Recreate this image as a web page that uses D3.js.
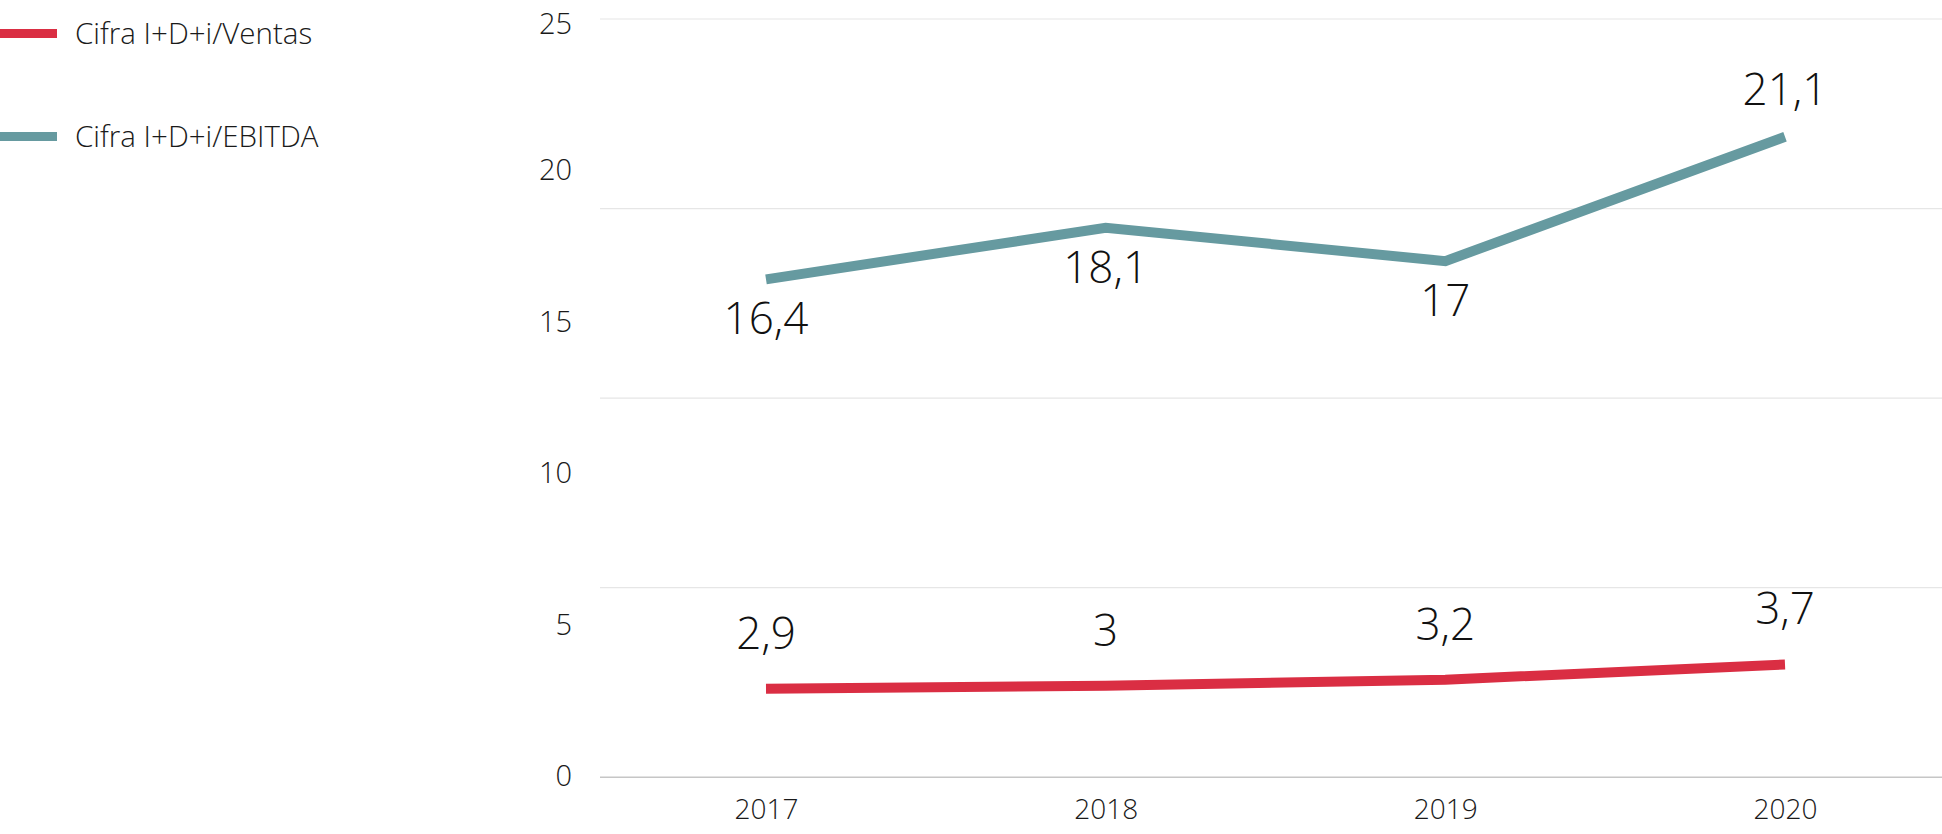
<!DOCTYPE html>
<html>
<head>
<meta charset="utf-8">
<script src="https://cdn.jsdelivr.net/npm/d3@7"></script>
<style>
  html, body { margin: 0; padding: 0; background: #fff; overflow: hidden; }
  svg { display: block; font-family: 'Open Sans', 'Noto Sans', sans-serif; font-weight: 300; }
  .axis path.domain { display: none; }
  .axis text { fill: #1a1a1a; font-family: 'Open Sans', 'Noto Sans', sans-serif; font-weight: 300; }
</style>
</head>
<body>
<div id="chart"></div>
<script>
// Datos del gráfico
const years = ['2017', '2018', '2019', '2020'];
const ventas = [2.9, 3, 3.2, 3.7];
const ebitda = [16.4, 18.1, 17, 21.1];
const ventasLabels = ['2,9', '3', '3,2', '3,7'];
const ebitdaLabels = ['16,4', '18,1', '17', '21,1'];
const ebitdaLabelSide = ['below', 'below', 'below', 'above'];
const yTicks = [0, 5, 10, 15, 20, 25];
const gridTicks = [0, 6.25, 12.5, 18.75, 25];
const seriesNames = ['Cifra I+D+i/Ventas', 'Cifra I+D+i/EBITDA'];

const W = 1942, H = 834;
const RED = '#da2e43', TEAL = '#669aa0';

const svg = d3.select('#chart').append('svg')
  .attr('width', W)
  .attr('height', H);

const x = d3.scalePoint().domain(years).range([766, 1785]);
const y = d3.scaleLinear().domain([0, 25]).range([776.7, 18.5]);
const plotLeft = 600;

// Líneas de rejilla
svg.append('g')
  .attr('class', 'grid axis')
  .attr('transform', `translate(${plotLeft},0)`)
  .call(d3.axisLeft(y).tickValues(gridTicks).tickSize(-(W - plotLeft)).tickFormat(''))
  .selectAll('.tick line')
  .attr('stroke', d => d === 0 ? '#c6c6c6' : '#e6e6e6')
  .attr('stroke-width', d => d === 0 ? 1.6 : 1.2);

// Eje Y (solo etiquetas)
svg.append('g')
  .attr('class', 'y axis')
  .attr('transform', 'translate(572,0)')
  .call(d3.axisLeft(y).tickValues(yTicks).tickSize(0).tickPadding(0).tickFormat(d3.format('d')))
  .attr('font-family', null)
  .selectAll('text')
  .style('font-size', '29px')
  .attr('dy', d => d === 25 ? '0.5em' : '0.32em');

// Eje X
svg.append('g')
  .attr('class', 'x axis')
  .attr('transform', `translate(0,${y(0)})`)
  .call(d3.axisBottom(x).tickSize(0).tickPadding(22))
  .attr('font-family', null)
  .selectAll('text')
  .style('font-size', '28px');

// Líneas
const line = d3.line()
  .x((d, i) => x(years[i]))
  .y(d => y(d));

[[ventas, RED], [ebitda, TEAL]].forEach(([vals, col]) => {
  svg.append('path')
    .datum(vals)
    .attr('d', line)
    .attr('fill', 'none')
    .attr('stroke', col)
    .attr('stroke-width', 10)
    .attr('stroke-linejoin', 'miter')
    .attr('stroke-linecap', 'butt');
});

// Etiquetas de datos
svg.append('g').selectAll('text')
  .data(ventas)
  .join('text')
  .attr('x', (d, i) => x(years[i]))
  .attr('y', d => y(d) - 40)
  .attr('text-anchor', 'middle')
  .style('font-size', '44px')
  .attr('fill', '#111')
  .text((d, i) => ventasLabels[i]);

svg.append('g').selectAll('text')
  .data(ebitda)
  .join('text')
  .attr('x', (d, i) => x(years[i]))
  .attr('y', (d, i) => ebitdaLabelSide[i] === 'above' ? y(d) - 32 : y(d) + 55)
  .attr('text-anchor', 'middle')
  .style('font-size', '44px')
  .attr('fill', '#111')
  .text((d, i) => ebitdaLabels[i]);

// Leyenda
const legend = svg.append('g').attr('class', 'legend');
const legendY = [33.5, 136.5];
[RED, TEAL].forEach((col, i) => {
  legend.append('line')
    .attr('x1', 0).attr('x2', 57)
    .attr('y1', legendY[i]).attr('y2', legendY[i])
    .attr('stroke', col)
    .attr('stroke-width', 9);
  legend.append('text')
    .attr('x', 75)
    .attr('y', legendY[i])
    .attr('dy', '0.35em')
    .style('font-size', '29.5px')
    .attr('fill', '#1a1a1a')
    .text(seriesNames[i]);
});
</script>
</body>
</html>
